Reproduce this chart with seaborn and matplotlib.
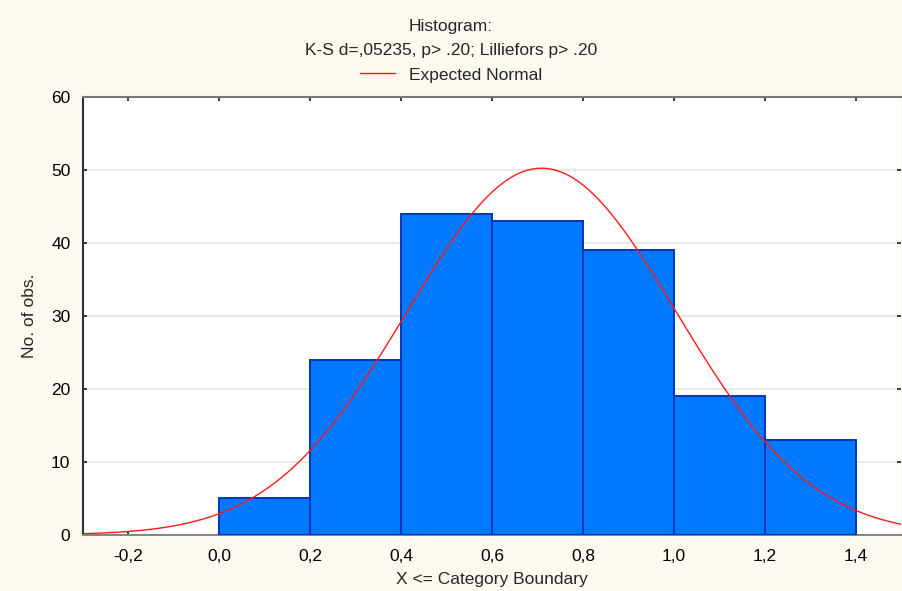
import numpy as np
import pandas as pd
import matplotlib
matplotlib.use("Agg")
import matplotlib.pyplot as plt
import seaborn as sns
from matplotlib.lines import Line2D

# Category boundaries and observed counts per category
bin_edges = [0.0, 0.2, 0.4, 0.6, 0.8, 1.0, 1.2, 1.4]
counts = [5, 24, 44, 43, 39, 19, 13]
x_ticks = [-0.2, 0.0, 0.2, 0.4, 0.6, 0.8, 1.0, 1.2, 1.4]
x_tick_labels = ["-0,2", "0,0", "0,2", "0,4", "0,6", "0,8", "1,0", "1,2", "1,4"]
y_ticks = [0, 10, 20, 30, 40, 50, 60]

# Fitted normal parameters for the expected curve
fit_mean = 0.709
fit_sd = 0.297

sns.set_theme(style="white")
plt.rcParams["font.family"] = ["Liberation Sans", "DejaVu Sans"]
FS = 12.5

fig = plt.figure(figsize=(9.02, 5.91), dpi=100, facecolor="#FCF9F0")
ax = fig.add_axes([0.092, 0.095, 0.907, 0.741])
ax.set_facecolor("white")

centers = [(a + b) / 2 for a, b in zip(bin_edges[:-1], bin_edges[1:])]
df = pd.DataFrame({"x": centers, "n": counts})
sns.histplot(data=df, x="x", weights="n", bins=bin_edges, ax=ax,
             color="#0078FF", edgecolor="#0535B5", linewidth=1.4,
             alpha=1.0, zorder=3)

n_total = sum(counts)
width = bin_edges[1] - bin_edges[0]
xs = np.linspace(-0.3, 1.5, 400)
ys = n_total * width / (fit_sd * np.sqrt(2 * np.pi)) * np.exp(-0.5 * ((xs - fit_mean) / fit_sd) ** 2)
sns.lineplot(x=xs, y=ys, ax=ax, color="#FF1A1A", linewidth=1.0, zorder=4)

ax.set_xlim(-0.3, 1.5)
ax.set_ylim(0, 60)
ax.set_xticks(x_ticks)
ax.set_xticklabels(x_tick_labels)
ax.set_yticks(y_ticks)
ax.yaxis.grid(True, color="#E4E4E4", linewidth=1.2, zorder=0)
ax.set_axisbelow(True)

ax.tick_params(axis="both", which="both", direction="in", length=3,
               labelsize=FS, colors="#222222", top=True, right=True,
               bottom=True, left=True)
ax.tick_params(axis="x", labelcolor="black", pad=10)
ax.tick_params(axis="y", labelcolor="black", pad=9)

for side, col in [("left", "#333333"), ("top", "#777777"),
                  ("bottom", "#888888")]:
    ax.spines[side].set_visible(True)
    ax.spines[side].set_color(col)
    ax.spines[side].set_linewidth(1.5)
ax.spines["right"].set_visible(False)

ax.set_xlabel("X <= Category Boundary", fontsize=FS, labelpad=6)
ax.set_ylabel("No. of obs.", fontsize=FS, labelpad=10)

fig.text(0.5, 1 - 27 / 591, "Histogram:", ha="center", va="center", fontsize=FS)
fig.text(0.5, 1 - 51 / 591, "K-S d=,05235, p> .20; Lilliefors p> .20",
         ha="center", va="center", fontsize=FS)
handle = Line2D([0], [0], color="#FF1A1A", linewidth=1.0)
fig.legend([handle], ["Expected Normal"], loc="center",
           bbox_to_anchor=(0.5, 1 - 75 / 591), frameon=False, fontsize=FS,
           handlelength=2.0, handletextpad=0.8)

fig.savefig("out.png", dpi=100, facecolor=fig.get_facecolor())
